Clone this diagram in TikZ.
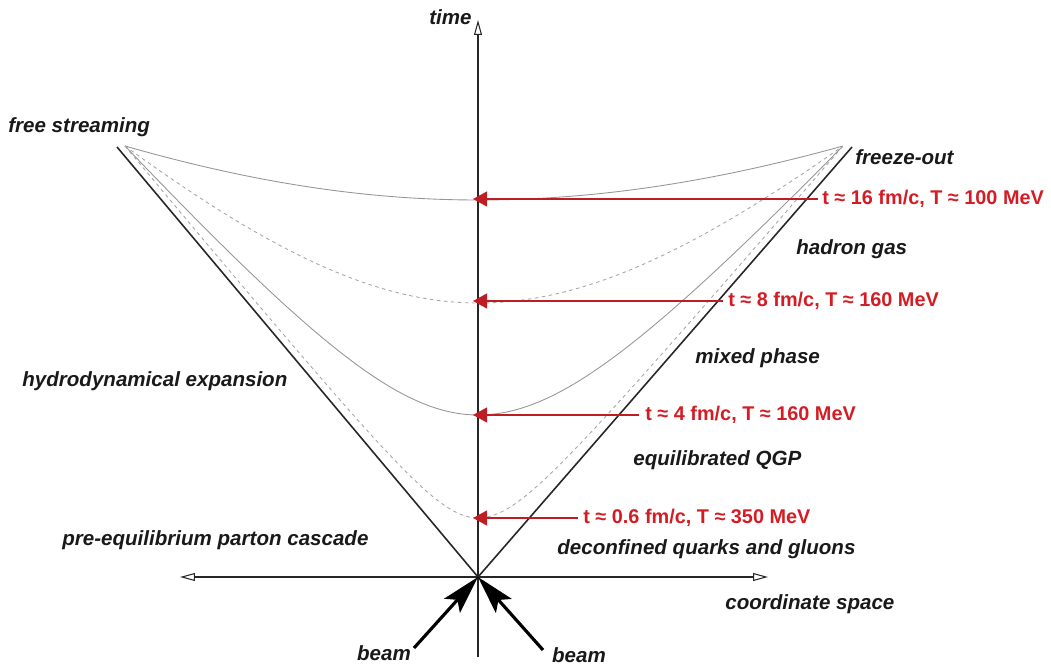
\documentclass[tikz,border=0pt]{standalone}
\usepackage{fontspec}
\setmainfont{Liberation Sans}
\usetikzlibrary{arrows.meta}
\definecolor{labred}{RGB}{212,28,36}
\definecolor{arrred}{RGB}{190,30,35}
\definecolor{curvegray}{RGB}{150,150,150}
\tikzset{
 lbl/.style={font=\fontsize{11.7}{14}\selectfont\bfseries\itshape, inner sep=0pt, text=black!90},
 rlbl/.style={font=\fontsize{11.3}{13}\selectfont\bfseries, inner sep=0pt, text=labred},
 axisline/.style={line width=0.6pt, black!85},
 cone/.style={line width=0.9pt, black!85},
 hypsolid/.style={line width=0.5pt, curvegray},
 hypdashed/.style={line width=0.5pt, curvegray!85, dash pattern=on 2pt off 2pt},
 redarrow/.style={line width=0.9pt, arrred, -{Triangle[length=8pt,width=8.5pt]}},
 beamarrow/.style={line width=1.8pt, black, -{Stealth[length=22pt,width=12pt,inset=4.5pt]}},
}
\begin{document}
\begin{tikzpicture}[x=0.02cm,y=-0.02cm]
\useasboundingbox (0,0) rectangle (1051,671);
% key points
\coordinate (O) at (478,577);
\coordinate (vb) at (478,657);
\coordinate (vt) at (478,20);
\coordinate (hl) at (180,577);
\coordinate (hr) at (768,577);
\coordinate (cl) at (117,147);
\coordinate (cr) at (852,147);
\coordinate (b1) at (414,648);
\coordinate (b2) at (543,650);
\coordinate (tip) at (473,0);
% curves
\draw[hypsolid] plot[domain=-1:1, samples=101, smooth] ({478+100*\x*ifthenelse(\x<0,3.53,3.65)}, {577-100*sqrt(14.2129+(18.5761-14.2129)*\x*\x)});
\draw[hypdashed] plot[domain=-1:1, samples=101, smooth] ({478+100*\x*ifthenelse(\x<0,3.53,3.65)}, {577-100*sqrt(7.5076+(18.5761-7.5076)*\x*\x)});
\draw[hypsolid] plot[domain=-1:1, samples=101, smooth] ({478+100*\x*ifthenelse(\x<0,3.53,3.65)}, {577-100*sqrt(2.6244+(18.5761-2.6244)*\x*\x)});
\draw[hypdashed] plot[domain=-1:1, samples=101, smooth] ({478+100*\x*ifthenelse(\x<0,3.53,3.65)}, {577-100*sqrt(0.3481+(18.5761-0.3481)*\x*\x)});
% light cone
\draw[cone] (cl) -- (O) -- (cr);
% axes
\draw[axisline, -{Triangle[open,length=8.5pt,width=4.5pt]}] (vb) -- (vt);
\draw[axisline, {Triangle[open,length=8.5pt,width=4.5pt]}-{Triangle[open,length=8.5pt,width=4.5pt]}] (hl) -- (hr);
% beams
\draw[beamarrow] (b1) -- (O);
\draw[beamarrow] (b2) -- (O);
% labels
\node[lbl, anchor=east] (time) at (472,17) {time};
\node[lbl, anchor=west] (fs) at (8,127) {free streaming};
\node[lbl, anchor=west] (fo) at (855,157) {freeze-out};
\node[lbl, anchor=west] (hg) at (796,249) {hadron gas};
\node[lbl, anchor=west] (mp) at (695,358) {mixed phase};
\node[lbl, anchor=west] (he) at (22,381) {hydrodynamical expansion};
\node[lbl, anchor=west] (eq) at (633,460) {equilibrated QGP};
\node[lbl, anchor=west] (pe) at (62,540) {pre-equilibrium parton cascade};
\node[lbl, anchor=west] (dq) at (557,549) {deconfined quarks and gluons};
\node[lbl, anchor=west] (cs) at (725,604) {coordinate space};
\node[lbl] (bl) at (384,653) {beam};
\node[lbl] (br) at (579,655) {beam};
% red labels and arrows
\node[rlbl, anchor=west] (r1) at (822,199) {t ≈ 16 fm/c, T ≈ 100 MeV};
\node[rlbl, anchor=west] (r2) at (728,301) {t ≈ 8 fm/c, T ≈ 160 MeV};
\node[rlbl, anchor=west] (r3) at (645,415) {t ≈ 4 fm/c, T ≈ 160 MeV};
\node[rlbl, anchor=west] (r4) at (583,518) {t ≈ 0.6 fm/c, T ≈ 350 MeV};
\draw[redarrow] ([xshift=-0.08cm]r1.west) -- (r1.west -| tip);
\draw[redarrow] ([xshift=-0.1cm]r2.west) -- (r2.west -| tip);
\draw[redarrow] ([xshift=-0.12cm]r3.west) -- (r3.west -| tip);
\draw[redarrow] ([xshift=-0.1cm]r4.west) -- (r4.west -| tip);
\end{tikzpicture}
\end{document}
